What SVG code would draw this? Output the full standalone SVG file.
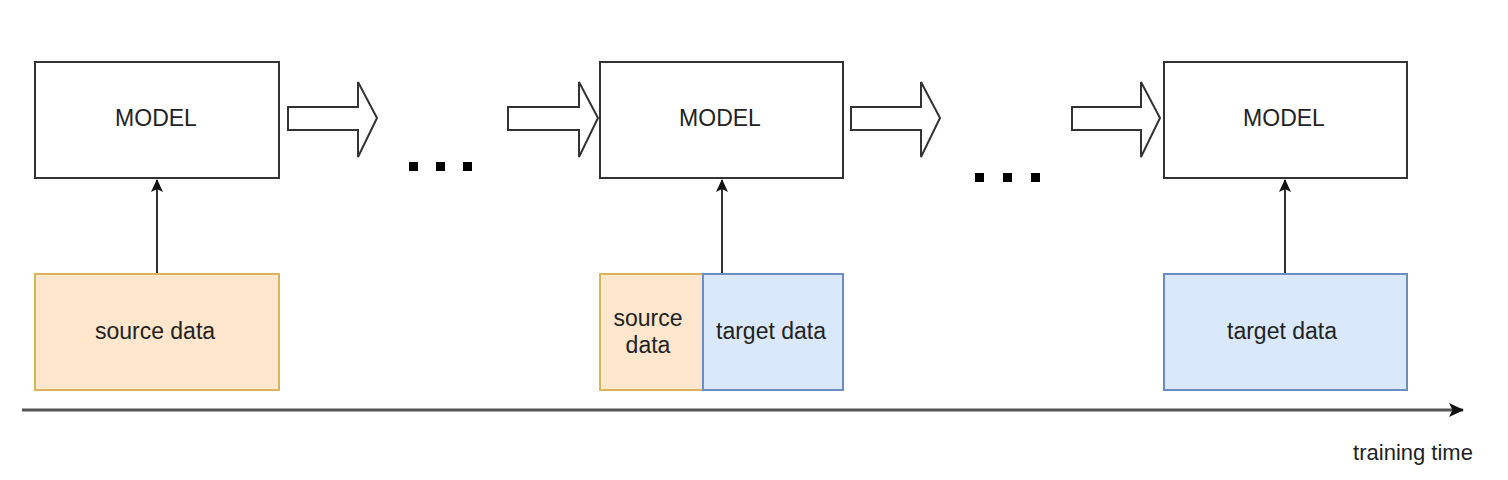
<svg xmlns="http://www.w3.org/2000/svg" width="1508" height="480" viewBox="0 0 1508 480">
<style>
.model{fill:#fff;stroke:#333;stroke-width:2}
.src{fill:#ffe6cc;stroke:#d6b656;stroke-width:2}
.tgt{fill:#dae8fc;stroke:#6c8ebf;stroke-width:2}
.blk{fill:#fff;stroke:#333;stroke-width:2;stroke-linejoin:miter}
.t{font-family:"Liberation Sans",Arial,sans-serif;font-size:23px;fill:#222;text-anchor:middle}
.ln{stroke:#333;stroke-width:2;fill:none}
.dot{fill:#000}
</style>
<defs>
<marker id="ah" markerWidth="14" markerHeight="14" refX="12" refY="6" orient="auto" markerUnits="userSpaceOnUse">
<path d="M0,0 L13,6 L0,12 L3,6 Z" fill="#111"/>
</marker>
<marker id="ah2" markerWidth="16" markerHeight="14" refX="14" refY="7" orient="auto" markerUnits="userSpaceOnUse">
<path d="M0,0 L15,7 L0,14 L3.5,7 Z" fill="#111"/>
</marker>
</defs>
<g id="connectors">
<line class="ln" x1="157" y1="274" x2="157" y2="180" marker-end="url(#ah)"/>
<line class="ln" x1="722" y1="274" x2="722" y2="180" marker-end="url(#ah)"/>
<line class="ln" x1="1285" y1="274" x2="1285" y2="180" marker-end="url(#ah)"/>
<line x1="22" y1="410" x2="1463" y2="410" stroke="#555" stroke-width="3" marker-end="url(#ah2)"/>
</g>
<g id="model1"><rect class="model" x="35" y="62" width="244" height="116"/><text class="t" x="156" y="126">MODEL</text></g>
<g id="model2"><rect class="model" x="600" y="62" width="243" height="116"/><text class="t" x="720" y="126">MODEL</text></g>
<g id="model3"><rect class="model" x="1164" y="62" width="243" height="116"/><text class="t" x="1284" y="126">MODEL</text></g>
<g id="blockarrow1"><path class="blk" d="M288,107 H358 V82 L377,118 L358,157 V130 H288 Z"/></g>
<g id="blockarrow2"><path class="blk" d="M508,107 H579 V82 L598,118 L579,157 V130 H508 Z"/></g>
<g id="blockarrow3"><path class="blk" d="M851,107 H921 V82 L940,118 L921,157 V130 H851 Z"/></g>
<g id="blockarrow4"><path class="blk" d="M1072,107 H1141 V82 L1160,118 L1141,157 V130 H1072 Z"/></g>
<g id="dots1"><rect class="dot" x="409" y="162" width="9" height="9"/><rect class="dot" x="436" y="162" width="9" height="9"/><rect class="dot" x="463" y="162" width="9" height="9"/></g>
<g id="dots2"><rect class="dot" x="975" y="173" width="9" height="9"/><rect class="dot" x="1003" y="173" width="9" height="9"/><rect class="dot" x="1031" y="173" width="9" height="9"/></g>
<g id="source1"><rect class="src" x="35" y="274" width="244" height="116"/><text class="t" x="155" y="339">source data</text></g>
<g id="source2"><rect class="src" x="600" y="274" width="103" height="116"/><text class="t" x="648" y="326">source</text><text class="t" x="648" y="353">data</text></g>
<g id="target2"><rect class="tgt" x="703" y="274" width="140" height="116"/><text class="t" x="771" y="339">target data</text></g>
<g id="target3"><rect class="tgt" x="1164" y="274" width="243" height="116"/><text class="t" x="1282" y="339">target data</text></g>
<g id="label"><text class="t" x="1413" y="460" style="font-size:22px">training time</text></g>
</svg>
